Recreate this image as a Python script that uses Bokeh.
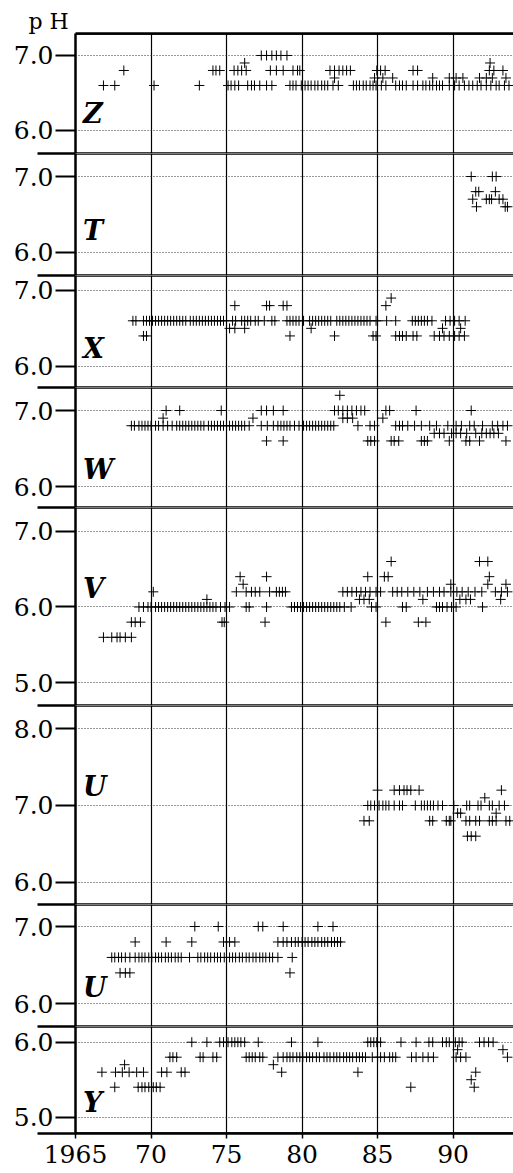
from bokeh.plotting import figure
from bokeh.layouts import column
from bokeh.models import Range1d, FixedTicker, Span, PrintfTickFormatter, Grid, LinearAxis
from bokeh.embed import file_html
from bokeh.resources import INLINE
from bokeh.core.properties import value

# ---------------- data (years of samples at each pH level) ----------------
YEAR_TICKS = [1965, 1970, 1975, 1980, 1985, 1990]
YEAR_LABELS = ["1965", "70", "75", "80", "85", "90"]
PANEL_NAMES = ["Z", "T", "X", "W", "V", "U", "U", "Y"]
Y_TITLE = "p H"

# Z
Z_66 = [1966.85, 1967.6, 1970.2, 1973.2, 1975.1, 1975.3, 1975.55, 1975.8, 1976.4, 1976.65, 1976.85, 1977.2,
        1977.65, 1978.0, 1979.2, 1979.4, 1979.6, 1979.95, 1980.2, 1980.4, 1980.6, 1980.85, 1981.05, 1981.3,
        1981.5, 1981.7, 1982.05, 1982.4, 1983.4, 1983.6, 1983.8, 1984.05, 1984.25, 1984.5, 1984.7, 1984.9,
        1985.25, 1985.55, 1986.2, 1986.45, 1986.65, 1986.9, 1987.35, 1987.65, 1988.0, 1988.2, 1988.45,
        1988.65, 1988.9, 1989.1, 1989.3, 1989.75, 1990.1, 1990.4, 1990.75, 1991.05, 1991.3, 1991.6, 1991.85,
        1992.2, 1992.5, 1992.85, 1993.05, 1993.4, 1993.7]
Z_67 = [1982.15, 1984.8, 1985.35, 1986.0, 1988.65, 1989.75, 1990.2, 1990.65, 1991.75, 1992.2, 1992.6, 1993.5]
Z_68 = [1968.2, 1974.1, 1974.3, 1974.55, 1975.5, 1975.75, 1976.0, 1976.3, 1977.9, 1978.3, 1978.75, 1979.4,
        1979.7, 1979.85, 1981.85, 1982.15, 1982.45, 1982.7, 1982.95, 1983.2, 1984.95, 1985.2, 1985.5,
        1987.35, 1987.65, 1992.4, 1992.7, 1993.3]
Z_69 = [1976.2, 1992.45]
Z_70 = [1977.3, 1977.65, 1978.0, 1978.3, 1978.6, 1979.0]

# T
T_66 = [1991.55, 1993.45, 1993.6]
T_67 = [1991.3, 1992.2, 1992.4, 1992.55, 1993.05, 1993.3]
T_68 = [1991.5, 1991.7, 1992.8]
T_70 = [1991.2, 1992.6, 1992.85]

# X
X_64 = [1969.5, 1969.7, 1979.2, 1982.15, 1984.7, 1984.9, 1986.2, 1986.45, 1986.65, 1986.9, 1987.35, 1987.6,
        1988.75, 1989.1, 1989.4, 1989.75, 1990.1, 1990.4, 1990.75]
X_65 = [1975.2, 1975.55, 1976.2, 1980.6, 1989.3, 1990.5]
X_66 = [1968.8, 1969.0, 1969.5, 1969.7, 1969.9, 1970.1, 1970.3, 1970.5, 1970.7, 1970.9, 1971.1, 1971.3,
        1971.5, 1971.7, 1971.9, 1972.1, 1972.3, 1972.6, 1972.8, 1973.0, 1973.2, 1973.4, 1973.6, 1973.8,
        1974.0, 1974.2, 1974.4, 1974.6, 1974.8, 1975.0, 1975.4, 1975.6, 1976.0, 1976.2, 1976.4, 1976.6,
        1976.9, 1977.1, 1977.5, 1978.0, 1978.2, 1979.0, 1979.2, 1979.4, 1979.6, 1979.8, 1980.1, 1980.5,
        1980.7, 1980.9, 1981.1, 1981.3, 1981.5, 1981.7, 1981.9, 1982.3, 1982.5, 1982.7, 1982.9, 1983.1,
        1983.3, 1983.5, 1983.7, 1983.9, 1984.1, 1984.3, 1984.5, 1984.9, 1985.0, 1985.6, 1986.2, 1987.3,
        1987.5, 1987.7, 1987.9, 1988.1, 1988.3, 1988.6, 1989.5, 1989.8, 1990.1, 1990.4, 1990.8]
X_68 = [1975.55, 1977.65, 1977.85, 1978.75, 1979.0, 1985.55]
X_69 = [1985.9]

# W
W_66 = [1977.65, 1978.75, 1984.35, 1984.55, 1984.8, 1985.9, 1986.1, 1986.4, 1987.9, 1988.1, 1988.3, 1989.75,
        1990.85, 1991.1, 1991.75, 1993.5]
W_67 = [1988.75, 1989.1, 1989.4, 1989.9, 1990.2, 1990.5, 1990.9, 1991.5, 1991.9, 1992.2, 1992.45, 1992.7, 1993.0]
W_68 = [1968.7, 1968.9, 1969.2, 1969.4, 1969.6, 1969.8, 1970.0, 1970.3, 1970.5, 1970.8, 1971.1, 1971.4,
        1971.7, 1971.9, 1972.1, 1972.3, 1972.5, 1972.7, 1972.9, 1973.1, 1973.3, 1973.5, 1973.8, 1974.0,
        1974.2, 1974.4, 1974.6, 1974.8, 1975.0, 1975.2, 1975.4, 1975.6, 1975.8, 1976.0, 1976.2, 1976.5,
        1977.3, 1977.7, 1978.1, 1978.4, 1978.6, 1978.8, 1979.0, 1979.2, 1979.5, 1979.8, 1980.1, 1980.3,
        1980.5, 1980.7, 1980.9, 1981.1, 1981.3, 1981.5, 1981.7, 1981.9, 1982.1, 1983.7, 1984.5, 1984.8,
        1986.2, 1986.45, 1986.65, 1987.0, 1987.45, 1987.9, 1988.45, 1988.9, 1989.65, 1990.2, 1990.55,
        1991.1, 1991.4, 1991.95, 1992.6, 1992.95, 1993.3, 1993.6]
W_69 = [1970.8, 1976.75, 1982.7, 1983.0, 1983.35, 1985.35]
W_70 = [1971.0, 1971.9, 1974.65, 1977.3, 1977.65, 1978.1, 1978.75, 1982.15, 1982.4, 1982.7, 1983.0, 1983.3,
        1983.6, 1983.9, 1984.15, 1985.55, 1985.8, 1987.55, 1991.2]
W_72 = [1982.5]

# V
V_56 = [1966.85, 1967.4, 1967.75, 1967.95, 1968.3, 1968.7]
V_58 = [1968.7, 1968.95, 1969.3, 1974.7, 1974.85, 1977.55, 1985.55, 1987.7, 1988.2]
V_60 = [1969.2, 1969.5, 1969.8, 1970.0, 1970.3, 1970.5, 1970.7, 1970.9, 1971.1, 1971.3, 1971.5, 1971.7,
        1971.9, 1972.1, 1972.3, 1972.5, 1972.7, 1972.9, 1973.1, 1973.3, 1973.5, 1973.7, 1973.9, 1974.1,
        1974.3, 1974.6, 1974.9, 1975.2, 1976.3, 1976.5, 1977.65, 1979.3, 1979.5, 1979.7, 1979.9, 1980.1,
        1980.3, 1980.5, 1980.7, 1980.9, 1981.1, 1981.3, 1981.5, 1981.7, 1981.9, 1982.1, 1982.3, 1982.5,
        1982.8, 1983.25, 1984.6, 1984.9, 1986.65, 1986.9, 1988.9, 1989.1, 1989.3, 1989.6, 1989.9, 1990.2,
        1991.95]
V_61 = [1973.7, 1983.8, 1984.1, 1984.45, 1988.0, 1990.45, 1990.85, 1991.15, 1993.15]
V_62 = [1970.15, 1975.65, 1976.3, 1976.65, 1976.9, 1977.2, 1977.85, 1978.3, 1978.5, 1978.7, 1978.9,
        1982.7, 1983.0, 1983.3, 1983.6, 1983.9, 1984.2, 1984.5, 1984.9, 1985.2, 1986.0, 1986.3, 1986.6,
        1987.0, 1987.4, 1987.8, 1988.3, 1988.7, 1989.1, 1989.4, 1989.85, 1990.25, 1990.6, 1991.0, 1991.45,
        1991.9, 1992.8, 1993.2, 1993.6]
V_63 = [1976.1, 1989.85, 1992.3, 1993.5]
V_64 = [1975.9, 1977.65, 1984.35, 1985.45, 1985.7, 1992.4]
V_66 = [1985.9, 1991.75, 1992.3]

# U (upper)
U_66 = [1990.95, 1991.2, 1991.5]
U_68 = [1984.1, 1984.45, 1988.45, 1988.65, 1989.55, 1989.75, 1989.85, 1990.85, 1991.1, 1991.5, 1991.75,
        1992.4, 1992.6, 1992.85, 1993.5, 1993.75]
U_69 = [1990.3, 1990.5, 1992.85]
U_70 = [1984.35, 1984.55, 1984.8, 1985.1, 1985.35, 1985.55, 1985.75, 1986.1, 1986.45, 1986.65, 1987.5,
        1987.9, 1988.1, 1988.3, 1988.5, 1988.7, 1989.0, 1989.3, 1990.05, 1990.9, 1991.1, 1991.65, 1991.85,
        1992.4, 1992.6, 1993.05, 1993.4]
U_71 = [1992.1]
U_72 = [1985.0, 1986.1, 1986.45, 1986.75, 1986.95, 1987.2, 1987.75, 1993.2]

# U (lower)
L_64 = [1967.95, 1968.3, 1968.6, 1979.2]
L_66 = [1967.4, 1967.6, 1967.85, 1968.05, 1968.3, 1968.6, 1968.95, 1969.2, 1969.4, 1969.6, 1969.85, 1970.05,
        1970.3, 1970.5, 1970.7, 1970.95, 1971.15, 1971.35, 1971.6, 1971.8, 1972.0, 1972.55, 1973.1, 1973.3,
        1973.55, 1973.75, 1973.95, 1974.2, 1974.4, 1974.6, 1974.85, 1975.2, 1975.4, 1975.6, 1975.85, 1976.05,
        1976.3, 1976.5, 1976.75, 1976.95, 1977.2, 1977.4, 1977.6, 1977.85, 1978.05, 1978.4, 1979.35]
L_68 = [1968.95, 1971.0, 1972.7, 1974.8, 1975.2, 1975.55, 1978.4, 1978.75, 1979.0, 1979.3, 1979.55, 1979.75,
        1980.0, 1980.2, 1980.4, 1980.65, 1980.85, 1981.05, 1981.3, 1981.5, 1981.7, 1981.95, 1982.15, 1982.35,
        1982.55]
L_70 = [1972.9, 1974.45, 1977.1, 1977.4, 1978.75, 1981.05, 1982.05]

# Y
Y_54 = [1967.6, 1969.15, 1969.4, 1969.6, 1969.85, 1970.15, 1970.35, 1970.6, 1987.2, 1991.4]
Y_55 = [1991.2]
Y_56 = [1966.75, 1967.65, 1968.1, 1968.55, 1969.05, 1969.5, 1970.7, 1971.05, 1972.0, 1972.25, 1978.65,
        1983.7, 1991.5]
Y_57 = [1968.25, 1978.1]
Y_58 = [1971.25, 1971.45, 1971.7, 1973.25, 1973.45, 1974.1, 1974.35, 1976.3, 1976.5, 1976.7, 1976.9, 1977.2,
        1977.4, 1978.4, 1978.75, 1979.0, 1979.2, 1979.4, 1979.65, 1979.85, 1980.05, 1980.3, 1980.5, 1980.7,
        1980.95, 1981.15, 1981.45, 1981.65, 1981.85, 1982.1, 1982.3, 1982.5, 1982.75, 1982.95, 1983.15,
        1983.35, 1983.6, 1983.8, 1984.0, 1984.2, 1984.65, 1985.0, 1985.2, 1985.45, 1985.8, 1986.0, 1986.2,
        1987.25, 1987.55, 1988.0, 1988.35, 1988.7, 1990.2, 1990.5, 1990.85, 1993.6]
Y_59 = [1990.3, 1993.3]
Y_60 = [1972.7, 1973.7, 1974.55, 1974.8, 1975.1, 1975.35, 1975.55, 1975.75, 1975.95, 1976.2, 1977.1, 1979.3,
        1981.05, 1984.35, 1984.55, 1984.75, 1984.95, 1985.2, 1986.55, 1987.55, 1988.4, 1988.65, 1989.3,
        1989.55, 1989.75, 1990.15, 1990.4, 1990.6, 1991.75, 1992.05, 1992.35, 1992.65]

# ---------------- layout configuration ----------------
SERIES = [
    [(6.6, Z_66), (6.7, Z_67), (6.8, Z_68), (6.9, Z_69), (7.0, Z_70)],
    [(6.6, T_66), (6.7, T_67), (6.8, T_68), (7.0, T_70)],
    [(6.4, X_64), (6.5, X_65), (6.6, X_66), (6.8, X_68), (6.9, X_69)],
    [(6.6, W_66), (6.7, W_67), (6.8, W_68), (6.9, W_69), (7.0, W_70), (7.2, W_72)],
    [(5.6, V_56), (5.8, V_58), (6.0, V_60), (6.1, V_61), (6.2, V_62), (6.3, V_63), (6.4, V_64), (6.6, V_66)],
    [(6.6, U_66), (6.8, U_68), (6.9, U_69), (7.0, U_70), (7.1, U_71), (7.2, U_72)],
    [(6.4, L_64), (6.6, L_66), (6.8, L_68), (7.0, L_70)],
    [(5.4, Y_54), (5.5, Y_55), (5.6, Y_56), (5.7, Y_57), (5.8, Y_58), (5.9, Y_59), (6.0, Y_60)],
]
Y_LO = [5.693, 5.69, 5.719, 5.724, 4.70, 5.709, 5.706, 4.783]
Y_HI = [7.293, 7.305, 7.198, 7.303, 7.313, 8.304, 7.285, 6.209]
Y_TICKS = [[6.0, 7.0], [6.0, 7.0], [6.0, 7.0], [6.0, 7.0], [5.0, 6.0, 7.0], [6.0, 7.0, 8.0], [6.0, 7.0], [5.0, 6.0]]
LABEL_Y = [6.23, 6.28, 6.24, 6.22, 6.24, 7.25, 6.21, 5.19]
FRAME_H = [120, 122, 112, 120, 198, 199, 122, 107]

TOP_B, BOT_B, LEFT_B = 33, 40, 75
W = 513
SERIF = "DejaVu Serif"

xr = Range1d(1965, 1994.0)
figs = []
n = len(PANEL_NAMES)
for i in range(n):
    first, last = i == 0, i == n - 1
    lo, hi = Y_LO[i], Y_HI[i]
    h = FRAME_H[i] + (TOP_B if first else 0) + (BOT_B if last else 0)
    p = figure(width=W, height=h, x_range=xr, y_range=Range1d(lo, hi),
               output_backend="svg", toolbar_location=None,
               x_axis_location="below" if last else None, y_axis_location="left",
               min_border_left=LEFT_B, min_border_right=0,
               min_border_top=TOP_B if first else 0, min_border_bottom=BOT_B if last else 0)
    p.outline_line_color = None
    p.background_fill_color = "white"
    p.border_fill_color = "white"
    p.grid.visible = False

    # grids
    p.add_layout(Grid(dimension=0, ticker=FixedTicker(ticks=YEAR_TICKS[1:]),
                      grid_line_color="black", grid_line_width=1.2))
    p.add_layout(Grid(dimension=1, ticker=FixedTicker(ticks=Y_TICKS[i]),
                      grid_line_color="#333333", grid_line_width=1, grid_line_dash="1 2"))

    # y axis: major ticks at pH levels, long minor ticks mark panel boundaries
    minors = [lo] if first else [lo, hi]
    ya = p.yaxis[0]
    ya.ticker = FixedTicker(ticks=Y_TICKS[i], minor_ticks=minors)
    ya.formatter = PrintfTickFormatter(format="%.1f")
    ya.axis_line_color = "black"
    ya.axis_line_width = 2.5
    ya.major_tick_out = 20
    ya.major_tick_in = 0
    ya.major_tick_line_width = 2
    ya.major_tick_line_color = "black"
    ya.minor_tick_out = 38
    ya.minor_tick_in = 0
    ya.minor_tick_line_width = 2.5
    ya.minor_tick_line_color = "black"
    ya.major_label_standoff = -16
    ya.major_label_text_font = SERIF
    ya.major_label_text_font_size = "25px"
    ya.major_label_text_color = "black"

    # separators
    p.add_layout(Span(location=hi, dimension="width", line_color="black", line_width=2.5))
    p.add_layout(Span(location=lo, dimension="width", line_color="black", line_width=2.5))

    if last:
        xa = p.xaxis[0]
        xa.ticker = FixedTicker(ticks=YEAR_TICKS)
        xa.major_label_overrides = dict(zip(YEAR_TICKS, YEAR_LABELS))
        xa.axis_line_width = 2.5
        xa.major_tick_out = 5
        xa.major_tick_in = 0
        xa.major_tick_line_width = 1.5
        xa.major_label_standoff = 6
        xa.major_label_text_font = SERIF
        xa.major_label_text_font_size = "25px"
        xa.major_label_text_color = "black"

    if first:
        top_ax = LinearAxis(ticker=FixedTicker(ticks=[]), axis_line_width=2.5, axis_line_color="black",
                            major_tick_out=0, major_tick_in=0, minor_tick_out=0, minor_tick_in=0,
                            major_label_text_font_size="0px", major_label_standoff=0)
        p.add_layout(top_ax, "above")
        p.title.text = Y_TITLE
        p.title.align = "left"
        p.title.offset = -47
        p.title.standoff = 0
        p.title.text_font = SERIF
        p.title.text_font_style = "normal"
        p.title.text_font_size = "22px"
        p.title.text_color = "black"

    # data
    for level, years in SERIES[i]:
        p.scatter(x=years, y=[level] * len(years), marker="cross", size=10,
                  line_color="black", line_width=1)

    p.text(x=[1965.5], y=[LABEL_Y[i]], text=[PANEL_NAMES[i]], text_font=value(SERIF),
           text_font_style="bold italic", text_font_size="27px", text_baseline="middle",
           text_align="left", text_color="black")
    figs.append(p)

layout = column(*figs, spacing=0)
open("out.html", "w").write(file_html(layout, INLINE))
